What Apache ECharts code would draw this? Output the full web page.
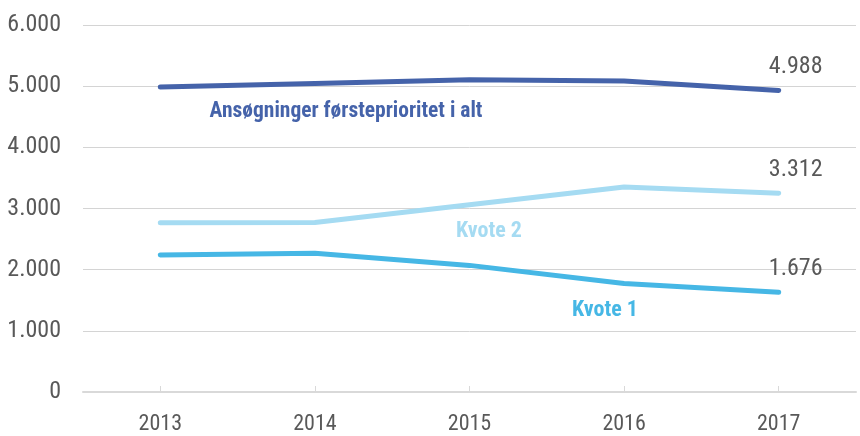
<!DOCTYPE html>
<html>
<head>
<meta charset="utf-8">
<script src="https://cdn.jsdelivr.net/npm/echarts@6/dist/echarts.min.js"></script>
<style>
html, body { margin: 0; padding: 0; background: #fff; }
#chart { width: 860px; height: 436px; }
</style>
</head>
<body>
<div id="chart"></div>
<script>
var years = ['2013', '2014', '2015', '2016', '2017'];
var totalApps = [4985, 5045, 5105, 5085, 4930];
var quota2 = [2765, 2770, 3060, 3350, 3250];
var quota1 = [2240, 2270, 2070, 1775, 1630];
// printed values at the last point
var endLabels = ['4.988', '3.312', '1.676'];
var yTicks = { min: 0, max: 6000, interval: 1000 };

var narrow = '"Liberation Sans Narrow", "Roboto Condensed", "Noto Sans Condensed", "DejaVu Sans Condensed", sans-serif';

function fmtThousands(v) {
    return String(v).replace(/\B(?=(\d{3})+(?!\d))/g, '.');
}

function lineSeries(name, data, color, endLabel) {
    return {
        name: name,
        type: 'line',
        data: data,
        symbol: 'none',
        lineStyle: { color: color, width: 5, cap: 'round', join: 'round' },
        itemStyle: { color: color },
        endLabel: {
            show: true,
            distance: 0,
            align: 'center',
            verticalAlign: 'middle',
            offset: [17, -23],
            fontFamily: narrow,
            fontSize: 24,
            color: '#595959',
            formatter: function () { return endLabel; }
        },
        z: 3
    };
}

var chart = echarts.init(document.getElementById('chart'));
chart.setOption({
    animation: false,
    backgroundColor: '#ffffff',
    grid: { left: 83, right: 4, top: 25, bottom: 44, outerBoundsMode: 'none', containLabel: false },
    xAxis: {
        type: 'category',
        data: years,
        boundaryGap: true,
        axisLine: { lineStyle: { color: '#d9d9d9', width: 2 } },
        axisTick: { show: true, inside: true, length: 6, alignWithLabel: true, lineStyle: { color: '#d9d9d9' } },
        axisLabel: { margin: 21, fontFamily: narrow, fontSize: 22, color: '#595959' }
    },
    yAxis: {
        type: 'value',
        min: yTicks.min,
        max: yTicks.max,
        interval: yTicks.interval,
        axisLine: { show: false },
        axisTick: { show: false },
        splitLine: { lineStyle: { color: '#d4d4d4', width: 1 } },
        axisLabel: {
            margin: 22,
            fontFamily: narrow,
            fontSize: 24,
            color: '#595959',
            formatter: fmtThousands
        }
    },
    series: [
        lineSeries('Ansøgninger førsteprioritet i alt', totalApps, '#4563aa', endLabels[0]),
        lineSeries('Kvote 2', quota2, '#a5dbf2', endLabels[1]),
        lineSeries('Kvote 1', quota1, '#46b7e5', endLabels[2])
    ],
    graphic: [
        { type: 'text', x: 346, y: 112, style: { text: 'Ansøgninger førsteprioritet i alt', fill: '#4563aa', font: 'bold 21.5px ' + narrow, align: 'center', verticalAlign: 'middle' } },
        { type: 'text', x: 489, y: 231, style: { text: 'Kvote 2', fill: '#a5dbf2', font: 'bold 22px ' + narrow, align: 'center', verticalAlign: 'middle' } },
        { type: 'text', x: 605, y: 310, style: { text: 'Kvote 1', fill: '#46b7e5', font: 'bold 22px ' + narrow, align: 'center', verticalAlign: 'middle' } }
    ]
});
</script>
</body>
</html>
